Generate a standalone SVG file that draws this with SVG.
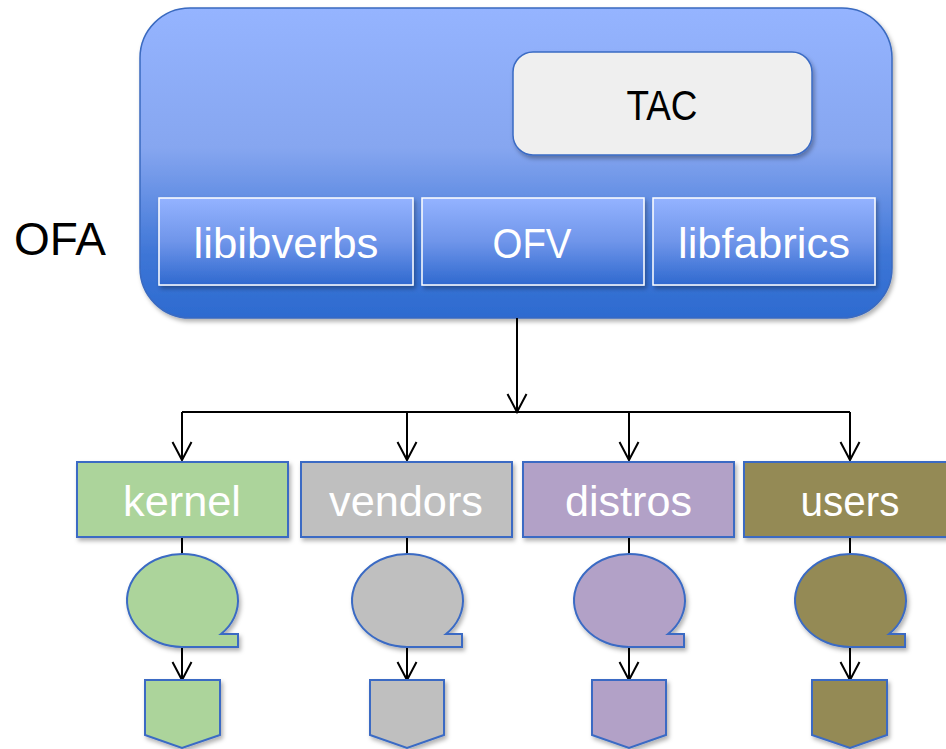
<svg xmlns="http://www.w3.org/2000/svg" width="946" height="749" viewBox="0 0 946 749">
<style>
.lbl{font-family:"Liberation Sans",Arial,sans-serif;fill:#fff;text-anchor:middle;font-size:43px}
.blk{font-family:"Liberation Sans",Arial,sans-serif;fill:#000;text-anchor:middle}
.sub{stroke:#fff;stroke-width:1.5;fill:url(#gsub)}
.node{stroke:#3a6bc4;stroke-width:2}
.con{stroke:#000;stroke-width:2;fill:none}
.green{fill:#acd49b}
.grey{fill:#bfbfbf}
.purple{fill:#b2a1c7}
.olive{fill:#948a54}
</style>
<defs>
<linearGradient id="gbig" x1="0" y1="0" x2="0" y2="1">
<stop offset="0" stop-color="#95b4ff"/>
<stop offset="0.45" stop-color="#86a6f0"/>
<stop offset="0.8" stop-color="#3d75d6"/>
<stop offset="1" stop-color="#2d6bd0"/>
</linearGradient>
<linearGradient id="gsub" x1="0" y1="0" x2="0" y2="1">
<stop offset="0" stop-color="#94b3ff"/>
<stop offset="0.5" stop-color="#6f95ea"/>
<stop offset="1" stop-color="#2f69cf"/>
</linearGradient>
<filter id="sh" x="-10%" y="-10%" width="130%" height="130%">
<feDropShadow dx="2" dy="3" stdDeviation="2" flood-color="#000" flood-opacity="0.3"/>
</filter>
<marker id="arr" markerUnits="userSpaceOnUse" markerWidth="20" markerHeight="20" refX="19" refY="10" orient="auto" viewBox="0 0 20 20" overflow="visible">
<path d="M1,0.5 L19,10 L1,19.5" fill="none" stroke="#000" stroke-width="2"/>
</marker>
</defs>
<rect width="946" height="749" fill="#fff"/>

<text class="blk" x="60" y="255" font-size="46">OFA</text>

<g id="ofa">
<rect x="140" y="8" width="752" height="310" rx="50" ry="50" fill="url(#gbig)" stroke="#3a6ac0" stroke-width="1.5" filter="url(#sh)"/>
</g>
<g id="tac">
<rect x="513" y="52" width="299" height="103" rx="20" ry="20" fill="#efefef" stroke="#3a6bc4" stroke-width="1.5" filter="url(#sh)"/>
<text class="blk" x="662" y="120" font-size="42" textLength="71" lengthAdjust="spacingAndGlyphs">TAC</text>
</g>
<g id="libibverbs">
<rect class="sub" x="159" y="198" width="254" height="87" filter="url(#sh)"/>
<text class="lbl" x="286" y="258" textLength="185" lengthAdjust="spacingAndGlyphs">libibverbs</text>
</g>
<g id="ofv">
<rect class="sub" x="422" y="198" width="222" height="87" filter="url(#sh)"/>
<text class="lbl" x="532" y="258" textLength="79" lengthAdjust="spacingAndGlyphs">OFV</text>
</g>
<g id="libfabrics">
<rect class="sub" x="653" y="198" width="222" height="87" filter="url(#sh)"/>
<text class="lbl" x="764" y="258" textLength="172" lengthAdjust="spacingAndGlyphs">libfabrics</text>
</g>

<g id="connectors">
<path class="con" d="M517,318 V412" marker-end="url(#arr)"/>
<path class="con" d="M182,412 H850"/>
<path class="con" d="M182,412 V460" marker-end="url(#arr)"/>
<path class="con" d="M407,412 V460" marker-end="url(#arr)"/>
<path class="con" d="M629,412 V460" marker-end="url(#arr)"/>
<path class="con" d="M850,412 V460" marker-end="url(#arr)"/>
<path class="con" d="M182,537 V554"/>
<path class="con" d="M407,537 V554"/>
<path class="con" d="M629,537 V554"/>
<path class="con" d="M850,537 V554"/>
<path class="con" d="M182,647 V680" marker-end="url(#arr)"/>
<path class="con" d="M407,647 V680" marker-end="url(#arr)"/>
<path class="con" d="M629,647 V680" marker-end="url(#arr)"/>
<path class="con" d="M850,647 V680" marker-end="url(#arr)"/>
</g>

<g id="kernel">
<rect class="node green" x="77" y="462" width="211" height="75" filter="url(#sh)"/>
<text class="lbl" x="182" y="516" textLength="118" lengthAdjust="spacingAndGlyphs">kernel</text>
</g>
<g id="vendors">
<rect class="node grey" x="301" y="462" width="211" height="75" filter="url(#sh)"/>
<text class="lbl" x="406" y="516" textLength="154" lengthAdjust="spacingAndGlyphs">vendors</text>
</g>
<g id="distros">
<rect class="node purple" x="523" y="462" width="211" height="75" filter="url(#sh)"/>
<text class="lbl" x="628.5" y="516" textLength="127" lengthAdjust="spacingAndGlyphs">distros</text>
</g>
<g id="users">
<rect class="node olive" x="744" y="462" width="212" height="75" filter="url(#sh)"/>
<text class="lbl" x="850" y="516" textLength="99" lengthAdjust="spacingAndGlyphs">users</text>
</g>

<g id="bubble-kernel">
<path class="node green" filter="url(#sh)" d="M182,647 L238,647 L238,634 L221,634 A55.5,46.5 0 1 0 182,647 Z"/>
</g>
<g id="bubble-vendors">
<path class="node grey" filter="url(#sh)" d="M407,647 L462,647 L462,634 L446,634 A55.5,46.5 0 1 0 407,647 Z"/>
</g>
<g id="bubble-distros">
<path class="node purple" filter="url(#sh)" d="M629,647 L684,647 L684,634 L668,634 A55.5,46.5 0 1 0 629,647 Z"/>
</g>
<g id="bubble-users">
<path class="node olive" filter="url(#sh)" d="M850,647 L905,647 L905,634 L889,634 A55.5,46.5 0 1 0 850,647 Z"/>
</g>

<g id="page-kernel">
<path class="node green" filter="url(#sh)" d="M145,680 H220 V735 L182,748 L145,735 Z"/>
</g>
<g id="page-vendors">
<path class="node grey" filter="url(#sh)" d="M370,680 H444 V735 L407,748 L370,735 Z"/>
</g>
<g id="page-distros">
<path class="node purple" filter="url(#sh)" d="M592,680 H666 V735 L629,748 L592,735 Z"/>
</g>
<g id="page-users">
<path class="node olive" filter="url(#sh)" d="M812,680 H887 V735 L850,748 L812,735 Z"/>
</g>
</svg>
